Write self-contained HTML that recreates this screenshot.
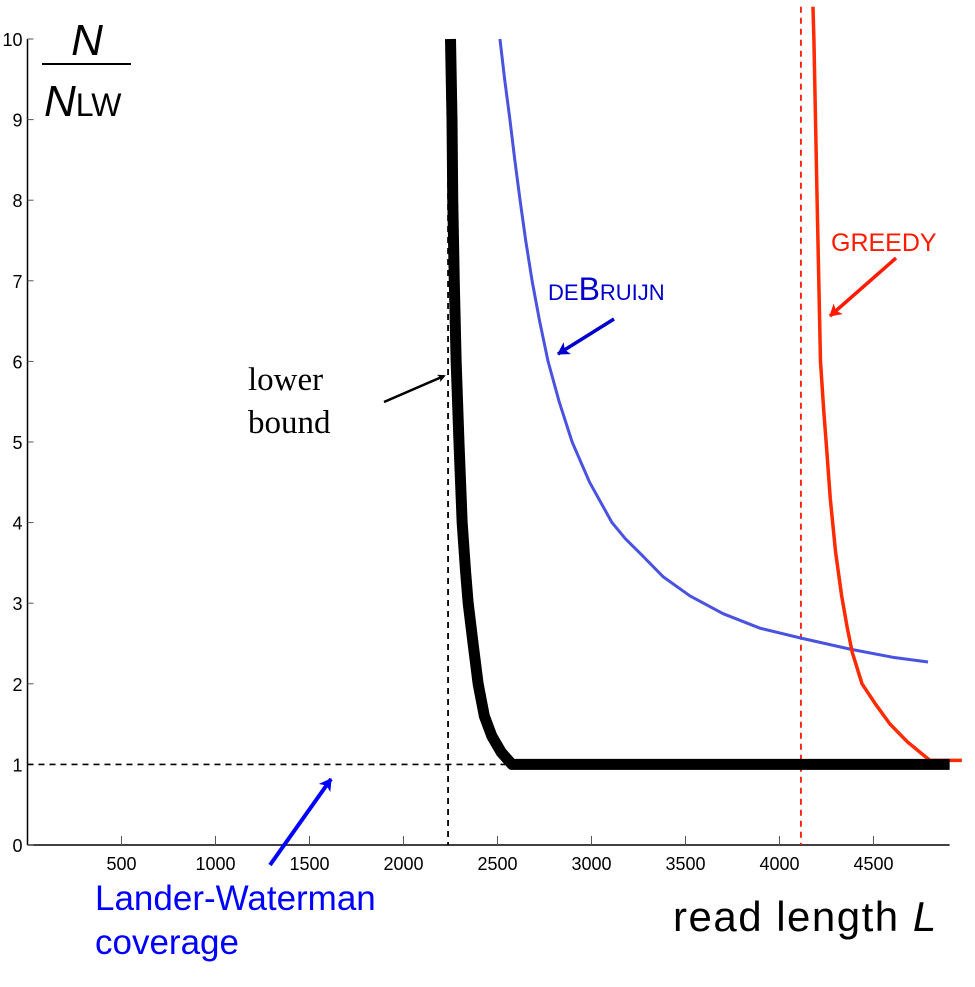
<!DOCTYPE html>
<html><head><meta charset="utf-8"><style>
body{margin:0;background:#fff;}
svg{display:block;font-family:"Liberation Sans",sans-serif;}
</style></head><body>
<svg id="chart" width="975" height="987" viewBox="0 0 975 987">
<defs>
<marker id="ab" markerWidth="8" markerHeight="8" refX="6" refY="4" orient="auto" markerUnits="userSpaceOnUse"><path d="M0,0 L8,4 L0,8 L2,4z" fill="#000"/></marker>
<marker id="abl" markerWidth="14" markerHeight="14" refX="11" refY="7" orient="auto" markerUnits="userSpaceOnUse"><path d="M0,0 L12,7 L0,14 L3,7z" fill="#0000cc"/></marker>
<marker id="ar" markerWidth="14" markerHeight="14" refX="11" refY="7" orient="auto" markerUnits="userSpaceOnUse"><path d="M0,0 L12,7 L0,14 L3,7z" fill="#ff1a00"/></marker>
<marker id="abb" markerWidth="14" markerHeight="14" refX="11" refY="7" orient="auto" markerUnits="userSpaceOnUse"><path d="M0,0 L12,7 L0,14 L3,7z" fill="#0000ff"/></marker>
</defs>
<g id="plot"></g>
<g>
<text x="87" y="55" font-size="44" font-style="italic" text-anchor="middle">N</text>
<line x1="42" y1="64" x2="131" y2="64" stroke="#000" stroke-width="2"/>
<text x="44" y="116" font-size="44" font-style="italic">N<tspan font-style="normal" font-size="32">LW</tspan></text>
</g>
<text x="673" y="931" font-size="42" letter-spacing="1.5">read length <tspan font-style="italic">L</tspan></text>
<g font-family="Liberation Serif,serif" font-size="33">
<text x="248" y="390">lower</text><text x="248" y="433">bound</text></g>
<line x1="384" y1="402" x2="444" y2="376" stroke="#000" stroke-width="2.5" marker-end="url(#ab)"/>
<text x="548" y="300" fill="#0000cc" font-size="22">DE<tspan font-size="32">B</tspan>RUIJN</text>
<line x1="614" y1="319" x2="558" y2="354" stroke="#0000cc" stroke-width="3.5" marker-end="url(#abl)"/>
<text x="831" y="251" fill="#ff1a00" font-size="25">GREEDY</text>
<line x1="896" y1="258" x2="830" y2="316" stroke="#ff1a00" stroke-width="3.5" marker-end="url(#ar)"/>
<g fill="#0000ff" font-size="35">
<text x="95" y="910">Lander-Waterman</text><text x="95" y="954">coverage</text></g>
<line x1="270" y1="865" x2="331" y2="779" stroke="#0000ff" stroke-width="4" marker-end="url(#abb)"/>
</svg>
<script>
const xTicks=[500,1000,1500,2000,2500,3000,3500,4000,4500];
const yTicks=[0,1,2,3,4,5,6,7,8,9,10];
const lowerL=[2250,2258,2262,2270,2280,2295,2312,2330,2344,2370,2397,2430,2470,2520,2577,3000,3500,4000,4500,4905];
const lowerN=[10,9,8,7,6,5,4,3.4,3,2.5,2,1.6,1.35,1.15,1,1,1,1,1,1];
const debL=[2513,2538,2566,2592,2620,2650,2684,2724,2769,2828,2897,2990,3109,3180,3258,3380,3524,3700,3896,4109,4375,4600,4790];
const debN=[10,9.5,9,8.5,8,7.5,7,6.5,6,5.5,5,4.5,4,3.8,3.62,3.33,3.09,2.87,2.69,2.57,2.43,2.33,2.27];
const grL=[4178,4183,4200,4218,4235,4250,4270,4298,4330,4360,4387,4439,4510,4588,4680,4774,4800,4970];
const grN=[10.4,10,8,6,5.4,4.94,4.3,3.64,3.1,2.7,2.39,2,1.75,1.5,1.28,1.1,1.05,1.05];
const lowerBoundL=2237, greedyThreshL=4114, lwN=1;
const X=v=>27.5+v*0.188, Y=v=>845-v*80.6;
const g=document.getElementById('plot');
const NS='http://www.w3.org/2000/svg';
function mk(t,a,p){const e=document.createElementNS(NS,t);for(const k in a)e.setAttribute(k,a[k]);(p||g).appendChild(e);return e;}
let e=mk('line',{x1:X(0),y1:Y(10),x2:X(0),y2:Y(0),stroke:'#000','stroke-width':1.5});


e=mk('line',{x1:X(0),y1:Y(0),x2:X(4905),y2:Y(0),stroke:'#000','stroke-width':1.5});


xTicks.forEach(t=>{mk('line',{x1:X(t),y1:Y(0),x2:X(t),y2:Y(0)-9,stroke:'#555','stroke-width':1});
const tx=mk('text',{x:X(t),y:Y(0)+25,'font-size':18,'text-anchor':'middle'});tx.textContent=t;

});
yTicks.forEach(t=>{mk('line',{x1:X(0),y1:Y(t),x2:X(0)+6,y2:Y(t),stroke:'#555','stroke-width':1});
const tx=mk('text',{x:X(0)-5,y:Y(t)+7,'font-size':18,'text-anchor':'end'});tx.textContent=t;

});
e=mk('line',{x1:X(0),y1:Y(lwN),x2:X(2577),y2:Y(lwN),stroke:'#000','stroke-width':1.6,'stroke-dasharray':'6,5'});


e=mk('line',{x1:X(lowerBoundL),y1:Y(10),x2:X(lowerBoundL),y2:Y(0),stroke:'#000','stroke-width':1.8,'stroke-dasharray':'6,5'});


e=mk('line',{x1:X(greedyThreshL),y1:Y(10.4),x2:X(greedyThreshL),y2:Y(0),stroke:'#ff1a00','stroke-width':1.8,'stroke-dasharray':'6,5'});


function pts(L,N){return L.map((v,i)=>X(v)+','+Y(N[i])).join(' ');}
e=mk('polyline',{points:pts(debL,debN),fill:'none',stroke:'#4a52e0','stroke-width':3,'stroke-linejoin':'round'});


e=mk('polyline',{points:pts(grL,grN),fill:'none',stroke:'#ff2a00','stroke-width':3.5,'stroke-linejoin':'round'});


e=mk('polyline',{points:pts(lowerL,lowerN),fill:'none',stroke:'#000','stroke-width':11,'stroke-linejoin':'round'});


</script>
</body></html>
